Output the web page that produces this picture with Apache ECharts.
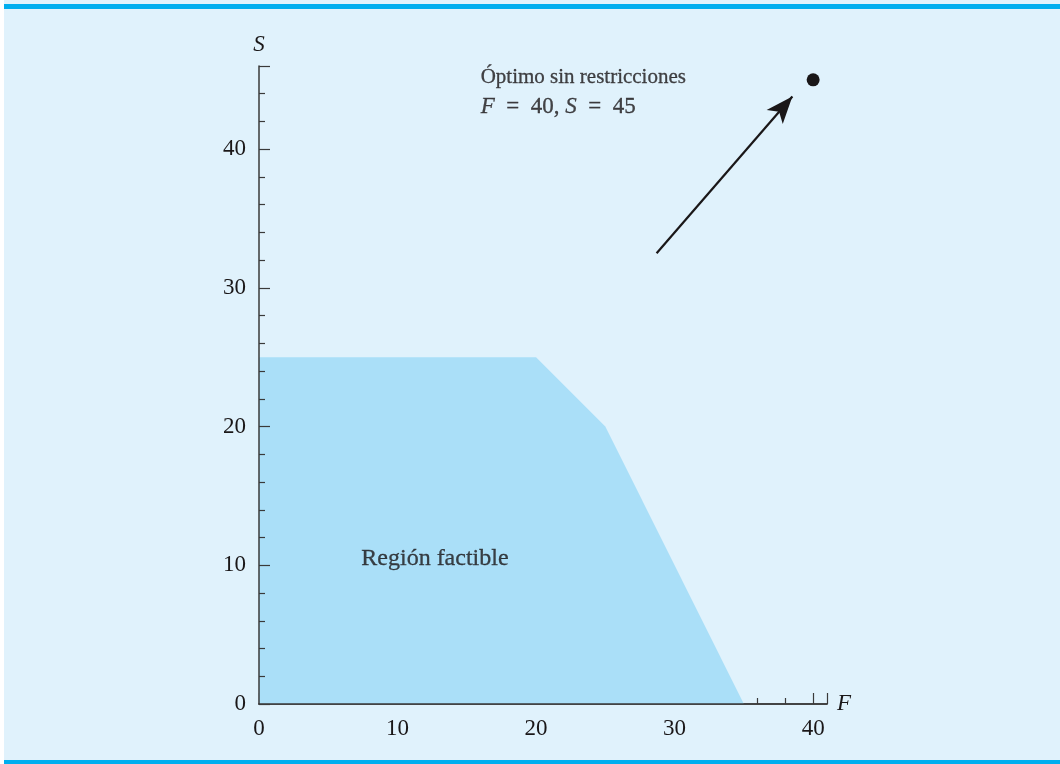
<!DOCTYPE html>
<html><head><meta charset="utf-8">
<script src="https://cdn.jsdelivr.net/npm/echarts@6/dist/echarts.min.js"></script>
<style>
html,body{margin:0;padding:0;background:#fff;}
#wrap{position:absolute;left:4px;top:0;width:1056px;height:764px;background:#e0f2fc;}
#topline{position:absolute;left:4px;top:4px;width:1056px;height:5px;background:#00aeef;}
#botline{position:absolute;left:4px;top:760px;width:1056px;height:4px;background:#00aeef;}
#chart{position:absolute;left:0;top:0;width:1060px;height:764px;}
</style></head>
<body>
<div id="wrap"></div><div id="topline"></div><div id="botline"></div>
<div id="chart"></div>
<script>
// Feasible region vertices (F, S)
const regionPoints = [[0,25],[20,25],[25,20],[35,0]];
const optimum = [[40,45]];
const arrowFrom = [28.7,32.5];
const arrowTo = [38.5,43.8];
const optimumLabelPos = [16.0,44.1];
const regionLabelPos = [12.7,10.45];
const xTicks = [0,10,20,30,40];
const yTicks = [0,10,20,30,40];

const serif = '"Liberation Serif","DejaVu Serif",serif';
const ink = '#1a1718';
const axisCommon = {
  axisLine:{show:true, onZero:false, lineStyle:{color:'#3a3a3a', width:1.5}},
  axisTick:{show:true, inside:true, length:11, lineStyle:{color:'#3a3a3a', width:1.2}},
  minorTick:{show:true, splitNumber:5, length:6, lineStyle:{color:'#3a3a3a', width:1.2}},
  splitLine:{show:false}
};
const chart = echarts.init(document.getElementById('chart'));
chart.setOption({
  backgroundColor: 'transparent',
  animation: false,
  grid: {left:259, right:233, top:66, bottom:60, containLabel:false},
  xAxis: [
    Object.assign({
      type:'value', min:0, max:41, interval:10,
      name:'F', nameLocation:'end', nameGap:10,
      nameTextStyle:{fontFamily:serif, fontStyle:'italic', fontSize:23, color:ink, verticalAlign:'middle'},
      axisLabel:{fontFamily:serif, fontSize:23, color:ink, margin:13,
        formatter:v=> xTicks.includes(v)? String(v):''},
      z:0
    }, axisCommon),
    {
      type:'value', min:0, max:41, interval:10, position:'bottom',
      axisLine:{show:true, onZero:false, lineStyle:{color:'#3a3a3a', width:1.5}},
      axisTick:{show:false}, axisLabel:{show:false}, splitLine:{show:false}, z:5
    }
  ],
  yAxis: Object.assign({
    type:'value', min:0, max:46, interval:10,
    name:'S', nameLocation:'end', nameGap:10,
    nameTextStyle:{fontFamily:serif, fontStyle:'italic', fontSize:23, color:ink, align:'center'},
    axisLabel:{fontFamily:serif, fontSize:23, color:ink, margin:13,
      formatter:v=> yTicks.includes(v)? String(v):''},
    z:5
  }, axisCommon),
  series: [
    {
      type:'line', data:regionPoints, symbol:'none',
      lineStyle:{width:0}, areaStyle:{color:'#aadff8', opacity:1}, z:2,
      markLine:{
        silent:true, symbol:['none','arrow'], symbolSize:[16,27],
        lineStyle:{color:ink, width:2.2, type:'solid'},
        label:{show:false},
        data:[[{coord:arrowFrom},{coord:arrowTo}]]
      }
    },
    {
      type:'scatter', data:optimum, symbol:'circle', symbolSize:13,
      itemStyle:{color:ink, opacity:1}, z:6
    },
    {
      type:'scatter', data:[optimumLabelPos], symbolSize:0, silent:true,
      label:{show:true, position:'inside', color:ink, fontFamily:serif, fontSize:21, lineHeight:30, align:'left',
        textBorderColor:ink, textBorderWidth:0.3,
        formatter:'Óptimo sin restricciones\n{i|F}{m|\u2002=\u200240, }{i|S}{m|\u2002=\u200245}',
        rich:{
          i:{fontStyle:'italic', fontFamily:serif, fontSize:23, color:ink, textBorderColor:ink, textBorderWidth:0.3},
          m:{fontFamily:serif, fontSize:23, color:ink, textBorderColor:ink, textBorderWidth:0.3}
        }}
    },
    {
      type:'scatter', data:[regionLabelPos], symbolSize:0, silent:true,
      label:{show:true, position:'inside', color:ink, fontFamily:serif, fontSize:24,
        textBorderColor:ink, textBorderWidth:0.3,
        formatter:'Región factible'}
    }
  ]
});
</script>
</body></html>
